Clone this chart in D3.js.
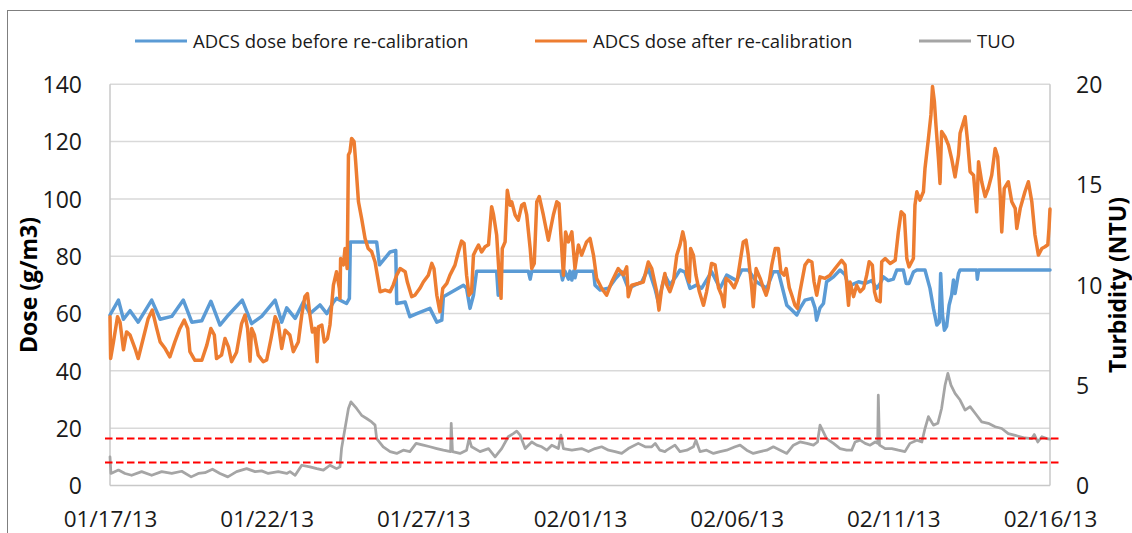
<!DOCTYPE html>
<html><head><meta charset="utf-8">
<script src="https://cdn.jsdelivr.net/npm/d3@7"></script>
<style>
html,body{margin:0;padding:0;background:#fff;overflow:hidden}
svg{display:block}
text{font-family:"Open Sans",sans-serif}
</style></head><body>
<svg id="chart" width="1132" height="533"></svg>
<script>
// ---- data (time = days after 01/17/13 00:00) ----
const startDate = "2013-01-17";
const endDate = "2013-02-16";
const seriesNames = ["ADCS dose before re-calibration", "ADCS dose after re-calibration", "TUO"];
const seriesColors = ["#5B9BD5", "#ED7D31", "#A5A5A5"];
const xTicks = ["2013-01-17","2013-01-22","2013-01-27","2013-02-01","2013-02-06","2013-02-11","2013-02-16"];
const doseTicks = [0,20,40,60,80,100,120,140];
const turbTicks = [0,5,10,15,20];
const turbLimits = [2.34, 1.15];

// ADCS dose before re-calibration (g/m3)
const doseBefore = [
[0,59.5],[0.27,64.7],[0.43,58],[0.64,61],[0.90,57],[1.33,64.7],[1.60,58],[1.97,59],[2.34,64.7],[2.61,57],
[2.93,57.5],[3.22,64.3],[3.51,56],[3.78,59.5],[4.22,64.7],[4.52,56.5],[4.84,59],[5.27,64.7],[5.48,57],[5.64,62],
[5.91,58.3],[6.17,64],[6.38,60],[6.70,63],[6.92,60],[7.13,64],[7.23,65.3],[7.55,63.5],[7.64,65.3],[7.67,85],
[8.51,85],[8.60,77],[8.94,81.5],[9.12,82],[9.15,63.5],[9.42,64],[9.57,58.9],[9.79,60],[10.21,61.8],[10.43,57],
[10.59,57.7],[10.64,65.9],[11.28,69.9],[11.38,68.8],[11.49,61.8],[11.6,66.4],[11.7,74.8],[12.34,74.8],[12.39,66.4],[12.45,74.8],
[13.35,74.8],[13.41,72],[13.46,74.8],[14.39,74.8],[14.44,71.7],[14.52,74.8],[14.63,72],[14.68,74.8],[14.74,71.7],[14.8,74.8],
[14.84,72.5],[14.89,74.8],[15.43,74.8],[15.48,69.9],[15.64,68.2],[15.91,68.8],[16.12,72],[16.33,74.6],[16.54,68.8],[16.76,70],
[16.97,71],[17.18,75.7],[17.39,68.8],[17.5,64],[17.71,73.3],[17.87,70],[18.09,73.4],[18.19,75.2],[18.35,74.5],[18.51,68.8],
[18.73,70],[18.88,68.8],[19.2,74.6],[19.47,68.8],[19.68,73.4],[20.0,71.5],[20.16,75.2],[20.37,75.2],[20.64,71],[20.96,68.8],
[21.17,74.6],[21.33,74.6],[21.6,62.9],[21.76,61.2],[21.92,59.5],[22.02,61.8],[22.18,64.7],[22.40,65.3],[22.5,62],[22.55,57.7],
[22.66,62],[22.77,63.5],[22.87,71.1],[23.09,72.8],[23.3,75.2],[23.46,73.5],[23.62,67.6],[23.67,70],[23.89,71.1],[24.1,70.5],
[24.31,71.5],[24.47,68.8],[24.58,70.5],[24.68,72.8],[24.84,71.5],[25.0,72],[25.11,75.2],[25.32,75.2],[25.41,70.5],[25.5,70.5],
[25.64,74.5],[25.75,75.2],[26.01,75.2],[26.17,68.8],[26.28,61.8],[26.39,56],[26.47,57],[26.51,74],[26.57,59.5],[26.63,54.2],
[26.70,55.5],[26.78,62.9],[26.86,66.4],[26.92,71.7],[26.97,67],[27.08,74],[27.13,75.2],[27.66,75.2],[27.68,72],[27.72,75.2],
[30,75.2]
];

// ADCS dose after re-calibration (g/m3)
const doseAfter = [
[0,58.9],[0.02,44.3],[0.11,50.1],[0.24,58.9],[0.32,57],[0.43,47.4],[0.53,53.6],[0.64,52.5],[0.80,47.8],[0.90,44.3],
[1.06,51.3],[1.22,58.3],[1.35,61.2],[1.49,54.8],[1.60,50.1],[1.76,47.8],[1.91,44.9],[2.07,50.1],[2.23,54.8],[2.37,57.7],
[2.48,54.8],[2.55,46.7],[2.71,43.7],[2.93,43.7],[3.09,49],[3.22,54.8],[3.33,52.5],[3.40,44.3],[3.56,45.5],[3.67,51.3],
[3.78,48.4],[3.88,43.2],[4.04,46.5],[4.20,56.5],[4.31,59.5],[4.39,54.8],[4.47,43.4],[4.52,54.8],[4.61,52.5],[4.73,45.5],
[4.89,43.2],[5.0,43.8],[5.14,51.3],[5.27,58.9],[5.37,56.5],[5.48,47.8],[5.59,54.2],[5.74,52.5],[5.85,46.7],[6.01,50.1],
[6.12,59.5],[6.22,65.9],[6.30,67],[6.38,59.5],[6.46,53.6],[6.54,54.8],[6.61,43.2],[6.65,55.4],[6.76,56],[6.84,50.1],
[6.94,51.3],[7.02,56],[7.13,69.9],[7.23,74.6],[7.32,68.8],[7.34,65.3],[7.36,79.2],[7.45,77],[7.50,82.7],[7.57,75.7],
[7.61,115.3],[7.66,116.5],[7.71,121.1],[7.79,120],[7.84,113],[7.93,99],[8.03,93.2],[8.14,86.2],[8.24,82.7],[8.35,81.6],
[8.46,78],[8.53,73.4],[8.62,67.6],[8.78,68.2],[8.94,67.6],[9.04,70],[9.15,73.4],[9.26,75.7],[9.42,74.6],[9.49,71],
[9.63,65.9],[9.73,66.4],[9.89,68.8],[10.0,71],[10.16,73.4],[10.27,77.5],[10.34,75.7],[10.43,66.4],[10.53,60.6],[10.62,68.8],
[10.75,70.5],[10.85,73.4],[11.01,76.9],[11.12,81.6],[11.22,85.3],[11.30,84.5],[11.38,73.4],[11.46,66.4],[11.54,67.5],[11.6,80.4],
[11.70,82.7],[11.76,83.9],[11.86,81.5],[11.97,83.3],[12.08,84],[12.18,97.3],[12.24,94.5],[12.34,87.4],[12.42,73.4],[12.48,65.3],
[12.52,82.7],[12.61,85],[12.68,103],[12.77,97.8],[12.82,99],[12.93,94.4],[13.03,92.6],[13.14,97.8],[13.22,98.4],[13.3,94.4],
[13.41,82.7],[13.46,75.7],[13.54,77.5],[13.62,99],[13.70,100.8],[13.83,94.4],[13.99,85.6],[14.15,94.4],[14.26,99],[14.33,98.4],
[14.39,87.4],[14.47,73.4],[14.54,88.5],[14.63,85],[14.74,88.5],[14.84,75.7],[14.95,83.9],[15.05,80.4],[15.21,85],[15.32,86.2],
[15.43,80.4],[15.53,72.3],[15.69,68.8],[15.85,66.4],[16.01,71],[16.22,75.7],[16.38,73.5],[16.49,76.3],[16.54,65.9],[16.65,69.9],
[16.86,70.5],[17.02,71],[17.18,78],[17.29,75.7],[17.45,67.5],[17.52,61.2],[17.61,69],[17.71,74],[17.77,70],[17.87,67.6],
[17.98,71.1],[18.09,80.4],[18.19,83.9],[18.28,88.5],[18.35,85],[18.41,73.4],[18.49,71],[18.53,82.7],[18.62,80.4],[18.70,73.4],
[18.81,67.6],[18.94,62.9],[19.04,67.6],[19.20,77.5],[19.31,77],[19.42,69],[19.52,66.4],[19.6,62.4],[19.66,72.3],[19.79,71.1],
[19.92,69],[20.02,71.7],[20.11,78.1],[20.21,85],[20.30,85.6],[20.37,80.4],[20.48,69],[20.53,62.4],[20.62,75.7],[20.75,72.3],
[20.85,69],[20.94,66.4],[21.01,69],[21.12,76.9],[21.23,82.7],[21.33,82.7],[21.41,74.6],[21.51,73.4],[21.58,75.7],[21.68,69],
[21.76,66.4],[21.86,62.9],[21.94,61.8],[22.02,67.6],[22.18,76.9],[22.29,78.6],[22.40,78],[22.47,71.1],[22.555,66.4],[22.66,72.8],
[22.82,72.3],[22.98,73.4],[23.14,75.7],[23.35,78.6],[23.46,77],[23.51,70.5],[23.57,62.9],[23.62,71],[23.73,65.9],[23.83,69.9],
[23.94,67.6],[24.05,68.8],[24.15,73.4],[24.23,78.1],[24.33,76.9],[24.40,67.6],[24.47,64.7],[24.58,64.1],[24.63,78.1],[24.74,79.2],
[24.90,77.5],[25.06,78.6],[25.16,88.5],[25.25,95.5],[25.35,94.4],[25.43,79.2],[25.50,76.3],[25.64,79.2],[25.69,97.8],[25.75,102.5],
[25.85,99.6],[25.96,102.5],[26.01,110.6],[26.12,121.1],[26.20,129.3],[26.25,139.2],[26.31,134],[26.36,125.8],[26.44,114.1],[26.49,105.4],
[26.54,123.5],[26.65,121.7],[26.76,118.8],[26.86,114.1],[26.97,107.7],[27.08,115.3],[27.13,122.9],[27.29,128.7],[27.37,120],[27.45,109.5],
[27.56,108.3],[27.66,95.5],[27.72,113],[27.82,106],[27.93,100.8],[28.03,103.7],[28.14,108.3],[28.25,117.6],[28.33,114.7],[28.41,101.3],
[28.46,88.5],[28.54,103.7],[28.67,106],[28.78,99],[28.89,96.7],[28.94,89.7],[29.05,96.7],[29.2,102.5],[29.31,106],[29.42,99],
[29.52,87.4],[29.63,80.4],[29.74,82.7],[29.84,83.3],[29.93,84],[29.97,90],[30,96.5]
];

// TUO turbidity (NTU)
const turbidity = [
[0,1.43],[0.03,0.6],[0.27,0.77],[0.48,0.6],[0.69,0.51],[1.01,0.69],[1.33,0.51],[1.65,0.69],[1.97,0.6],[2.29,0.71],
[2.59,0.43],[2.82,0.6],[3.03,0.64],[3.27,0.81],[3.51,0.6],[3.76,0.43],[4.04,0.69],[4.36,0.84],[4.63,0.69],[4.84,0.73],
[5.05,0.6],[5.37,0.69],[5.64,0.6],[5.745,0.69],[5.91,0.51],[6.12,1.01],[6.38,0.93],[6.6,0.84],[6.81,0.77],[7.02,1.01],
[7.23,0.84],[7.34,0.93],[7.39,1.84],[7.5,2.84],[7.61,3.84],[7.69,4.17],[7.87,3.84],[8.03,3.5],[8.19,3.34],[8.35,3.17],
[8.46,3.01],[8.51,2.34],[8.72,1.93],[8.94,1.69],[9.15,1.6],[9.36,1.76],[9.57,1.69],[9.77,2.1],[10.0,2.01],[10.21,1.93],
[10.43,1.84],[10.64,1.76],[10.87,1.69],[10.89,3.1],[10.93,1.69],[11.17,1.6],[11.38,1.76],[11.46,2.34],[11.54,1.93],[11.81,1.69],
[12.08,1.84],[12.29,1.43],[12.5,1.84],[12.71,2.43],[12.87,2.59],[12.98,2.71],[13.09,2.51],[13.25,1.84],[13.46,2.17],[13.62,2.01],
[13.78,1.93],[13.94,1.76],[14.1,2.01],[14.31,1.84],[14.39,2.51],[14.47,1.84],[14.74,1.76],[15.05,1.84],[15.27,1.69],[15.48,1.84],
[15.69,1.93],[15.91,1.76],[16.12,1.69],[16.33,1.6],[16.54,1.84],[16.86,2.1],[17.08,1.93],[17.29,1.93],[17.4,2.1],[17.55,1.76],
[17.71,1.69],[17.77,1.76],[18.03,2.01],[18.19,1.69],[18.41,1.76],[18.62,1.93],[18.70,2.26],[18.83,1.69],[19.04,1.76],[19.26,1.6],
[19.47,1.69],[19.68,1.76],[19.95,1.93],[20.11,2.01],[20.32,1.76],[20.53,1.6],[20.75,1.69],[20.96,1.76],[21.17,1.93],[21.39,1.76],
[21.6,1.6],[21.81,2.01],[22.02,2.17],[22.24,2.1],[22.45,2.01],[22.58,2.17],[22.66,3.01],[22.77,2.66],[22.87,2.34],[23.09,2.1],
[23.3,1.84],[23.51,1.76],[23.67,1.76],[23.78,2.17],[23.94,2.26],[24.1,2.1],[24.26,2.01],[24.42,2.17],[24.5,2.1],[24.52,4.5],
[24.56,2.01],[24.74,1.84],[24.95,1.84],[25.16,1.76],[25.37,1.69],[25.53,2.1],[25.75,2.26],[25.91,2.17],[26.01,2.84],[26.12,3.43],
[26.28,3.01],[26.42,3.1],[26.54,3.84],[26.65,5.0],[26.74,5.59],[26.84,5.0],[26.97,4.59],[27.13,4.26],[27.29,3.76],[27.45,3.93],
[27.66,3.5],[27.82,3.17],[28.03,3.1],[28.25,2.93],[28.46,2.84],[28.67,2.59],[28.89,2.5],[29.2,2.37],[29.42,2.34],[29.5,2.54],
[29.61,2.17],[29.74,2.43],[29.9,2.34],[30,2.31]
];

// ---- drawing ----
const W = 1132, H = 533;
const plot = {left: 110, right: 1050, top: 84.3, bottom: 485.5};
const svg = d3.select("#chart");
const parse = d3.timeParse("%Y-%m-%d");
const t0 = parse(startDate), t1 = parse(endDate);
const toDate = d => new Date(t0.getTime() + d * 864e5);

const x = d3.scaleTime().domain([t0, t1]).range([plot.left, plot.right]);
const y = d3.scaleLinear().domain([0, 140]).range([plot.bottom, plot.top]);
const y2 = d3.scaleLinear().domain([0, 20]).range([plot.bottom, plot.top]);

svg.append("rect").attr("width", W).attr("height", H).attr("fill", "#fff");
// chart area border
svg.append("rect").attr("x", 7.5).attr("y", 10.5).attr("width", 1140).attr("height", 540)
  .attr("fill", "none").attr("stroke", "#7f7f7f").attr("stroke-width", 1);

// gridlines
svg.append("g").selectAll("line").data(doseTicks.filter(d => d > 0)).join("line")
  .attr("x1", plot.left).attr("x2", plot.right)
  .attr("y1", d => y(d)).attr("y2", d => y(d))
  .attr("stroke", "#d9d9d9").attr("stroke-width", 1.5);

// axis lines
svg.append("line").attr("x1", plot.left).attr("x2", plot.left).attr("y1", plot.top).attr("y2", plot.bottom)
  .attr("stroke", "#c8c8c8").attr("stroke-width", 1.5);
svg.append("line").attr("x1", plot.right).attr("x2", plot.right).attr("y1", plot.top).attr("y2", plot.bottom)
  .attr("stroke", "#c8c8c8").attr("stroke-width", 1.5);
svg.append("line").attr("x1", plot.left).attr("x2", plot.right).attr("y1", plot.bottom).attr("y2", plot.bottom)
  .attr("stroke", "#c8c8c8").attr("stroke-width", 1.5);

// axes
const tickFont = "23px";
const fmt = d3.timeFormat("%m/%d/%y");
const gx = svg.append("g").attr("transform", `translate(0,${plot.bottom})`)
  .call(d3.axisBottom(x).tickValues(xTicks.map(parse)).tickFormat(fmt).tickSize(0));
gx.select(".domain").remove();
gx.selectAll("text").attr("y", 41.5).attr("dy", null).attr("font-size", "22.5px")
  .attr("font-family", "Open Sans").attr("fill", "#1a1a1a");

const gy = svg.append("g").attr("transform", `translate(${plot.left},0)`)
  .call(d3.axisLeft(y).tickValues(doseTicks).tickSize(0));
gy.select(".domain").remove();
gy.selectAll("text").attr("x", -28).attr("dy", "0.36em").attr("font-size", tickFont)
  .attr("font-family", "Open Sans").attr("fill", "#1a1a1a");

const gy2 = svg.append("g").attr("transform", `translate(${plot.right},0)`)
  .call(d3.axisRight(y2).tickValues(turbTicks).tickSize(0));
gy2.select(".domain").remove();
gy2.selectAll("text").attr("x", 26).attr("dy", "0.36em").attr("font-size", tickFont)
  .attr("font-family", "Open Sans").attr("fill", "#1a1a1a");

// axis titles
svg.append("text").attr("transform", "translate(37,285) rotate(-90)")
  .attr("text-anchor", "middle").attr("font-size", "23px").attr("font-weight", "bold")
  .attr("fill", "#000").text("Dose (g/m3)");
svg.append("text").attr("transform", "translate(1126,285) rotate(-90)")
  .attr("text-anchor", "middle").attr("font-size", "23px").attr("font-weight", "bold")
  .attr("fill", "#000").text("Turbidity (NTU)");

// series
const lineDose = d3.line().x(d => x(toDate(d[0]))).y(d => y(d[1]));
const lineTurb = d3.line().x(d => x(toDate(d[0]))).y(d => y2(d[1]));
const g = svg.append("g").attr("fill", "none").attr("stroke-linejoin", "round").attr("stroke-linecap", "round");
g.append("path").datum(doseBefore).attr("d", lineDose).attr("stroke", seriesColors[0]).attr("stroke-width", 3.5);
g.append("path").datum(doseAfter).attr("d", lineDose).attr("stroke", seriesColors[1]).attr("stroke-width", 3.5);
g.append("path").datum(turbidity).attr("d", lineTurb).attr("stroke", seriesColors[2]).attr("stroke-width", 2.75);

// threshold lines
svg.append("g").selectAll("line").data(turbLimits).join("line")
  .attr("x1", plot.left - 5).attr("x2", plot.right + 10)
  .attr("y1", d => y2(d)).attr("y2", d => y2(d))
  .attr("stroke", "#ff0000").attr("stroke-width", 2).attr("stroke-dasharray", "7.5,3.5");

// legend
const legX = [135, 535, 919];
const leg = svg.append("g");
seriesNames.forEach((name, i) => {
  leg.append("line").attr("x1", legX[i]).attr("x2", legX[i] + 52).attr("y1", 41).attr("y2", 41)
    .attr("stroke", seriesColors[i]).attr("stroke-width", 3);
  leg.append("text").attr("x", legX[i] + 58).attr("y", 48).attr("font-size", "18.5px")
    .attr("fill", "#1a1a1a").text(name);
});
</script>
</body></html>
